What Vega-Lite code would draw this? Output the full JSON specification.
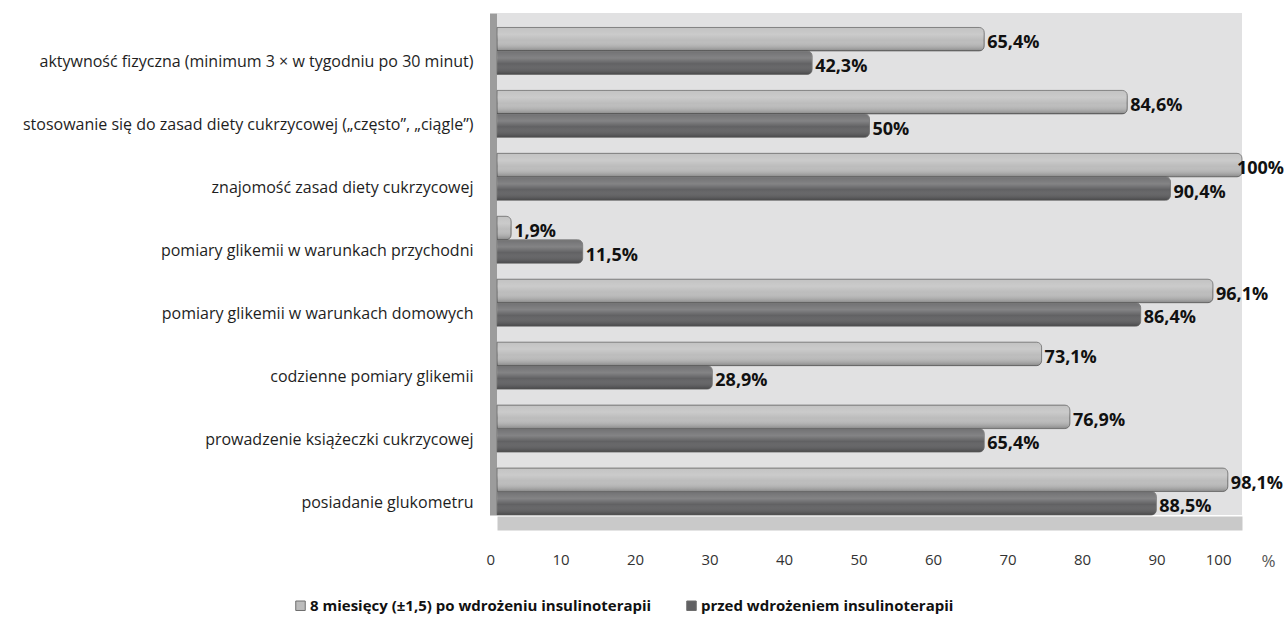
{
  "$schema": "https://vega.github.io/schema/vega-lite/v6.json",
  "autosize": {"type": "none"},
  "padding": {"left": 497, "top": 13, "right": 43, "bottom": 104},
  "width": 745,
  "height": 502,
  "background": "white",
  "config": {
    "font": "Open Sans",
    "view": {"fill": "#e1e1e2", "stroke": null},
    "axis": {"grid": false, "ticks": false}
  },
  "data": {
    "values": [
      {"kategoria": "aktywność fizyczna (minimum 3 × w tygodniu po 30 minut)", "okres": "8 miesięcy (±1,5) po wdrożeniu insulinoterapii", "wartosc": 65.4},
      {"kategoria": "aktywność fizyczna (minimum 3 × w tygodniu po 30 minut)", "okres": "przed wdrożeniem insulinoterapii", "wartosc": 42.3},
      {"kategoria": "stosowanie się do zasad diety cukrzycowej („często”,  „ciągle”)", "okres": "8 miesięcy (±1,5) po wdrożeniu insulinoterapii", "wartosc": 84.6},
      {"kategoria": "stosowanie się do zasad diety cukrzycowej („często”,  „ciągle”)", "okres": "przed wdrożeniem insulinoterapii", "wartosc": 50},
      {"kategoria": "znajomość zasad  diety cukrzycowej", "okres": "8 miesięcy (±1,5) po wdrożeniu insulinoterapii", "wartosc": 100},
      {"kategoria": "znajomość zasad  diety cukrzycowej", "okres": "przed wdrożeniem insulinoterapii", "wartosc": 90.4},
      {"kategoria": "pomiary glikemii w warunkach przychodni", "okres": "8 miesięcy (±1,5) po wdrożeniu insulinoterapii", "wartosc": 1.9},
      {"kategoria": "pomiary glikemii w warunkach przychodni", "okres": "przed wdrożeniem insulinoterapii", "wartosc": 11.5},
      {"kategoria": "pomiary glikemii w warunkach domowych", "okres": "8 miesięcy (±1,5) po wdrożeniu insulinoterapii", "wartosc": 96.1},
      {"kategoria": "pomiary glikemii w warunkach domowych", "okres": "przed wdrożeniem insulinoterapii", "wartosc": 86.4},
      {"kategoria": "codzienne pomiary glikemii", "okres": "8 miesięcy (±1,5) po wdrożeniu insulinoterapii", "wartosc": 73.1},
      {"kategoria": "codzienne pomiary glikemii", "okres": "przed wdrożeniem insulinoterapii", "wartosc": 28.9},
      {"kategoria": "prowadzenie książeczki cukrzycowej", "okres": "8 miesięcy (±1,5) po wdrożeniu insulinoterapii", "wartosc": 76.9},
      {"kategoria": "prowadzenie książeczki cukrzycowej", "okres": "przed wdrożeniem insulinoterapii", "wartosc": 65.4},
      {"kategoria": "posiadanie glukometru", "okres": "8 miesięcy (±1,5) po wdrożeniu insulinoterapii", "wartosc": 98.1},
      {"kategoria": "posiadanie glukometru", "okres": "przed wdrożeniem insulinoterapii", "wartosc": 88.5}
    ]
  },
  "transform": [
    {"calculate": "replace(format(datum.wartosc, '.3~r'), '.', ',') + '%'", "as": "etykieta"}
  ],
  "encoding": {
    "y": {
      "field": "kategoria",
      "type": "nominal",
      "sort": null,
      "scale": {"paddingInner": 0.254, "paddingOuter": 0.115, "align": 1},
      "axis": {
        "title": null,
        "domainColor": "#9c9c9c",
        "domainWidth": 7,
        "offset": 4,
        "labelPadding": 20,
        "labelOffset": 11,
        "labelLimit": 600,
        "labelFontSize": 16,
        "labelColor": "#1e1e1e"
      }
    },
    "yOffset": {
      "field": "okres",
      "type": "nominal",
      "sort": ["8 miesięcy (±1,5) po wdrożeniu insulinoterapii", "przed wdrożeniem insulinoterapii"]
    },
    "x": {
      "field": "wartosc",
      "type": "quantitative",
      "scale": {"domain": [0, 100], "nice": false},
      "axis": {
        "values": [0, 10, 20, 30, 40, 50, 60, 70, 80, 90, 100],
        "domainColor": "#c9c9c9",
        "domainWidth": 14,
        "offset": 8,
        "labelPadding": 29,
        "labelOffset": -11,
        "labelFontSize": 15,
        "labelColor": "#333333",
        "title": "%",
        "titleFontWeight": "normal",
        "titleFontSize": 17,
        "titleColor": "#555555",
        "titleX": 764,
        "titleY": 38,
        "titleBaseline": "middle",
        "titleAnchor": "start"
      }
    }
  },
  "layer": [
    {
      "mark": {"type": "bar", "cornerRadiusEnd": 5, "stroke": "#6e6e6e", "strokeWidth": 0.8},
      "encoding": {
        "color": {
          "field": "okres",
          "type": "nominal",
          "scale": {
            "domain": ["8 miesięcy (±1,5) po wdrożeniu insulinoterapii", "przed wdrożeniem insulinoterapii"],
            "range": ["#bcbcbc", "#616163"]
          },
          "legend": {
            "title": null,
            "orient": "none",
            "direction": "horizontal",
            "legendX": -204,
            "legendY": 585,
            "symbolType": "square",
            "symbolSize": 90,
            "symbolStrokeColor": "#6e6e6e",
            "symbolStrokeWidth": 1,
            "labelFontSize": 15,
            "labelFontWeight": "bold",
            "labelColor": "#111111",
            "labelLimit": 500,
            "labelOffset": 2,
            "columnPadding": 32
          }
        }
      }
    },
    {
      "mark": {
        "type": "bar",
        "cornerRadiusEnd": 5,
        "color": {
          "gradient": "linear",
          "x1": 0, "y1": 0, "x2": 0, "y2": 1,
          "stops": [
            {"offset": 0, "color": "rgba(255,255,255,0.10)"},
            {"offset": 0.3, "color": "rgba(255,255,255,0.22)"},
            {"offset": 0.55, "color": "rgba(255,255,255,0.0)"},
            {"offset": 1, "color": "rgba(0,0,0,0.28)"}
          ]
        }
      }
    },
    {
      "transform": [{"filter": "datum.wartosc < 100"}],
      "mark": {"type": "text", "align": "left", "baseline": "middle", "dx": 3, "dy": 4, "fontSize": 18, "fontWeight": "bold", "color": "#111111"},
      "encoding": {"text": {"field": "etykieta"}}
    },
    {
      "transform": [{"filter": "datum.wartosc >= 100"}],
      "mark": {"type": "text", "align": "right", "baseline": "middle", "dx": 42, "dy": 4, "fontSize": 18, "fontWeight": "bold", "color": "#111111"},
      "encoding": {"text": {"field": "etykieta"}}
    }
  ]
}
